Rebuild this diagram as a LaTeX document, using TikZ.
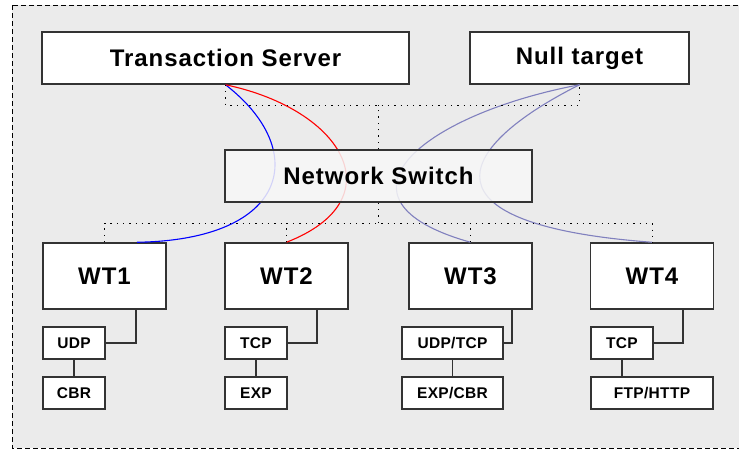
\documentclass[tikz,border=0pt]{standalone}
\usepackage{fontspec}
\setmainfont{Liberation Sans}
\definecolor{bggray}{RGB}{235,235,235}
\definecolor{lav}{RGB}{128,128,190}
\begin{document}
\begin{tikzpicture}[x=1pt, y=-1pt,
    big/.style={draw=black!80, line width=1.5pt, fill=white, inner sep=0pt,
        font=\fontsize{24}{28}\selectfont\bfseries\addfontfeatures{LetterSpace=4}},
    small/.style={draw=black!80, line width=1.2pt, fill=white, inner sep=0pt,
        minimum height=32pt, font=\fontsize{15.5}{18}\selectfont\bfseries\addfontfeatures{LetterSpace=2}},
    bus/.style={line width=1pt, dash pattern=on 1.3pt off 5pt},
    wire/.style={line width=1.2pt, black!80},
    link/.style={line width=1.1pt}]
\clip (0,0) rectangle (739,450);
\useasboundingbox (0,0) rectangle (739,450);
\fill[bggray] (12,5) rectangle (760,448);
\draw[line width=1pt, dash pattern=on 5pt off 3pt] (12,5) rectangle (760,448);

% servers
\node[big, minimum width=367pt, minimum height=52pt] (ts) at (225.5,58) {Transaction Server};
\node[big, minimum width=219pt, minimum height=52pt] (nt) at (579.5,58) {Null target};

% workstations
\node[big, minimum width=123pt, minimum height=66pt] (wt1) at (104.5,276) {WT1};
\node[big, minimum width=123pt, minimum height=66pt] (wt2) at (286.5,276) {WT2};
\node[big, minimum width=123pt, minimum height=66pt] (wt3) at (470.5,276) {WT3};
\node[big, minimum width=123pt, minimum height=66pt] (wt4) at (652,276) {WT4};

% protocols and traffic
\node[small, minimum width=62pt] (udp1) at (74,343) {UDP};
\node[small, minimum width=62pt] (cbr1) at (74,393) {CBR};
\node[small, minimum width=62pt] (tcp2) at (256,343) {TCP};
\node[small, minimum width=62pt] (exp2) at (256,393) {EXP};
\node[small, minimum width=101pt] (udp3) at (452.5,343) {UDP/TCP};
\node[small, minimum width=101pt] (exp3) at (452.5,393) {EXP/CBR};
\node[small, minimum width=62pt] (tcp4) at (622,343) {TCP};
\node[small, minimum width=122pt] (ftp4) at (652,393) {FTP/HTTP};

\draw[wire] ([xshift=31.5pt]wt1.south) |- (udp1.east);
\draw[wire] ([xshift=30.5pt]wt2.south) |- (tcp2.east);
\draw[wire] ([xshift=41.5pt]wt3.south) |- (udp3.east);
\draw[wire] ([xshift=31pt]wt4.south) |- (tcp4.east);
\draw[wire] (udp1) -- (cbr1);
\draw[wire] (tcp2) -- (exp2);
\draw[wire] (udp3) -- (exp3);
\draw[wire] (tcp4.south) -- (tcp4.south |- ftp4.north);

% flows
\draw[link, blue] (ts.south) .. controls (310,150) and (290,240) .. ([xshift=32.5pt]wt1.north);
\draw[link, red] (ts.south) .. controls (345,110) and (395,200) .. (wt2.north);
\draw[link, lav] (nt.south) .. controls (420,115) and (320,200) .. (wt3.north);
\draw[link, lav] (nt.south) .. controls (450,150) and (420,225) .. (wt4.north);

% switch
\node[big, minimum width=307pt, minimum height=52pt, fill=white!97!black, fill opacity=0.85,
    text opacity=1] (sw) at (378.5,176) {Network Switch};

\coordinate (upbus) at (0,105);
\coordinate (lowbus) at (0,223);
\draw[bus] (ts.south) -- (ts.south |- upbus) -- (nt.south |- upbus) -- (nt.south);
\draw[bus] (sw.north) -- (sw.north |- upbus);
\draw[bus] (sw.south) -- (sw.south |- lowbus);
\draw[bus] (wt1.north) -- (wt1.north |- lowbus) -- (wt4.north |- lowbus) -- (wt4.north);
\draw[bus] (wt2.north) -- (wt2.north |- lowbus);
\draw[bus] (wt3.north) -- (wt3.north |- lowbus);
\end{tikzpicture}
\end{document}
